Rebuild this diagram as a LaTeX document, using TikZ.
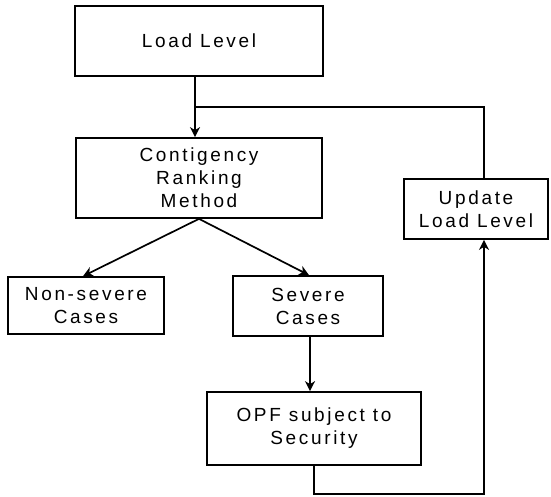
\documentclass[tikz,border=0pt]{standalone}
\usepackage{fontspec}
\setmainfont[LetterSpace=14]{Liberation Sans}
\usetikzlibrary{arrows.meta}
\begin{document}
\begin{tikzpicture}[x=1pt,y=-1pt,
  box/.style={draw,line width=1.7pt,inner sep=0pt,align=center,
    font=\fontsize{19}{23}\selectfont},
  conn/.style={line width=1.7pt},
  arr/.style={conn,-{Stealth[length=10pt,width=10pt,inset=3pt]}}]
\useasboundingbox (0,0) rectangle (551,496);
\node[box,minimum width=248,minimum height=70] (load) at (199,41) {Load Level};
\node[box,minimum width=246,minimum height=80] (contig) at (199,178) {Contigency\\Ranking\\Method};
\node[box,minimum width=156,minimum height=57] (nons) at (86,305.5) {Non-severe\\Cases};
\node[box,minimum width=150,minimum height=60] (sev) at (308,306) {Severe\\Cases};
\node[box,minimum width=214,minimum height=73] (opf) at (314,428.5) {OPF subject to\\Security};
\node[box,minimum width=144,minimum height=60] (upd) at (476,209) {Update\\Load Level};
\coordinate (j) at (195,107);
\draw[arr] (load.south -| j) -- (contig.north -| j);
\draw[conn] ([xshift=8]upd.north) |- (j);
\draw[arr] (contig.south) -- ([xshift=-3]nons.north);
\draw[arr] (contig.south) -- ([xshift=1]sev.north);
\draw[arr] ([xshift=2]sev.south) -- ([xshift=2]sev.south |- opf.north);
\draw[arr] (opf.south) -- ++(0,28) -| ([xshift=8]upd.south);
\end{tikzpicture}
\end{document}
